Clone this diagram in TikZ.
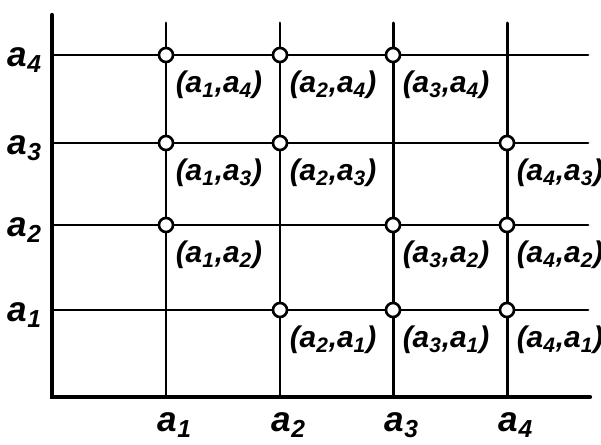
\documentclass[tikz,border=0pt]{standalone}
\usepackage{fontspec}
\setmainfont{Liberation Sans}
\usetikzlibrary{positioning}

\tikzset{
  grid/.style={line width=1.7pt},
  axis/.style={line width=2.4pt},
  pt/.style={draw, circle, fill=white, line width=1.5pt, inner sep=0pt, minimum size=8pt},
  pairlab/.style={inner sep=1pt, font=\bfseries\itshape\fontsize{17}{17}\selectfont},
  axlab/.style={inner sep=1pt, font=\bfseries\itshape\fontsize{20}{20}\selectfont}
}

\begin{document}
\begin{tikzpicture}[x=0.02cm, y=-0.02cm, line cap=round]
  \useasboundingbox (0,0) rectangle (601,445);
  % axes
  \coordinate (top) at (52,15);
  \coordinate (o) at (52,397);
  \coordinate (xend) at (590,397);
  \draw[axis] (top) -- (o) -- (xend);

  % vertical grid lines and labels
  \foreach \i/\x in {1/166,2/280,3/393,4/507} {
    \coordinate (t\i) at (\x,23);
    \coordinate (b\i) at (\x,397);
    \draw[grid] (t\i) -- (b\i);
    \node[axlab] (xl\i) at (\x+9,425) {a\textsubscript{\i}};
  }
  % horizontal grid lines and labels
  \foreach \j/\y in {1/310,2/225,3/143,4/55} {
    \coordinate (l\j) at (52,\y);
    \coordinate (r\j) at (588,\y);
    \draw[grid] (l\j) -- (r\j);
    \node[axlab] (yl\j) at (25,\y+5) {a\textsubscript{\j}};
  }

  % pairs
  \foreach \i/\j in {1/4,2/4,3/4,1/3,2/3,4/3,1/2,3/2,4/2,2/1,3/1,4/1} {
    \node[pt] (p\i\j) at (t\i |- l\j) {};
    \node[pairlab, below right=4.5pt and 1pt of p\i\j] (lab\i\j)
      {(a\textsubscript{\i},a\textsubscript{\j})};
  }
\end{tikzpicture}
\end{document}
